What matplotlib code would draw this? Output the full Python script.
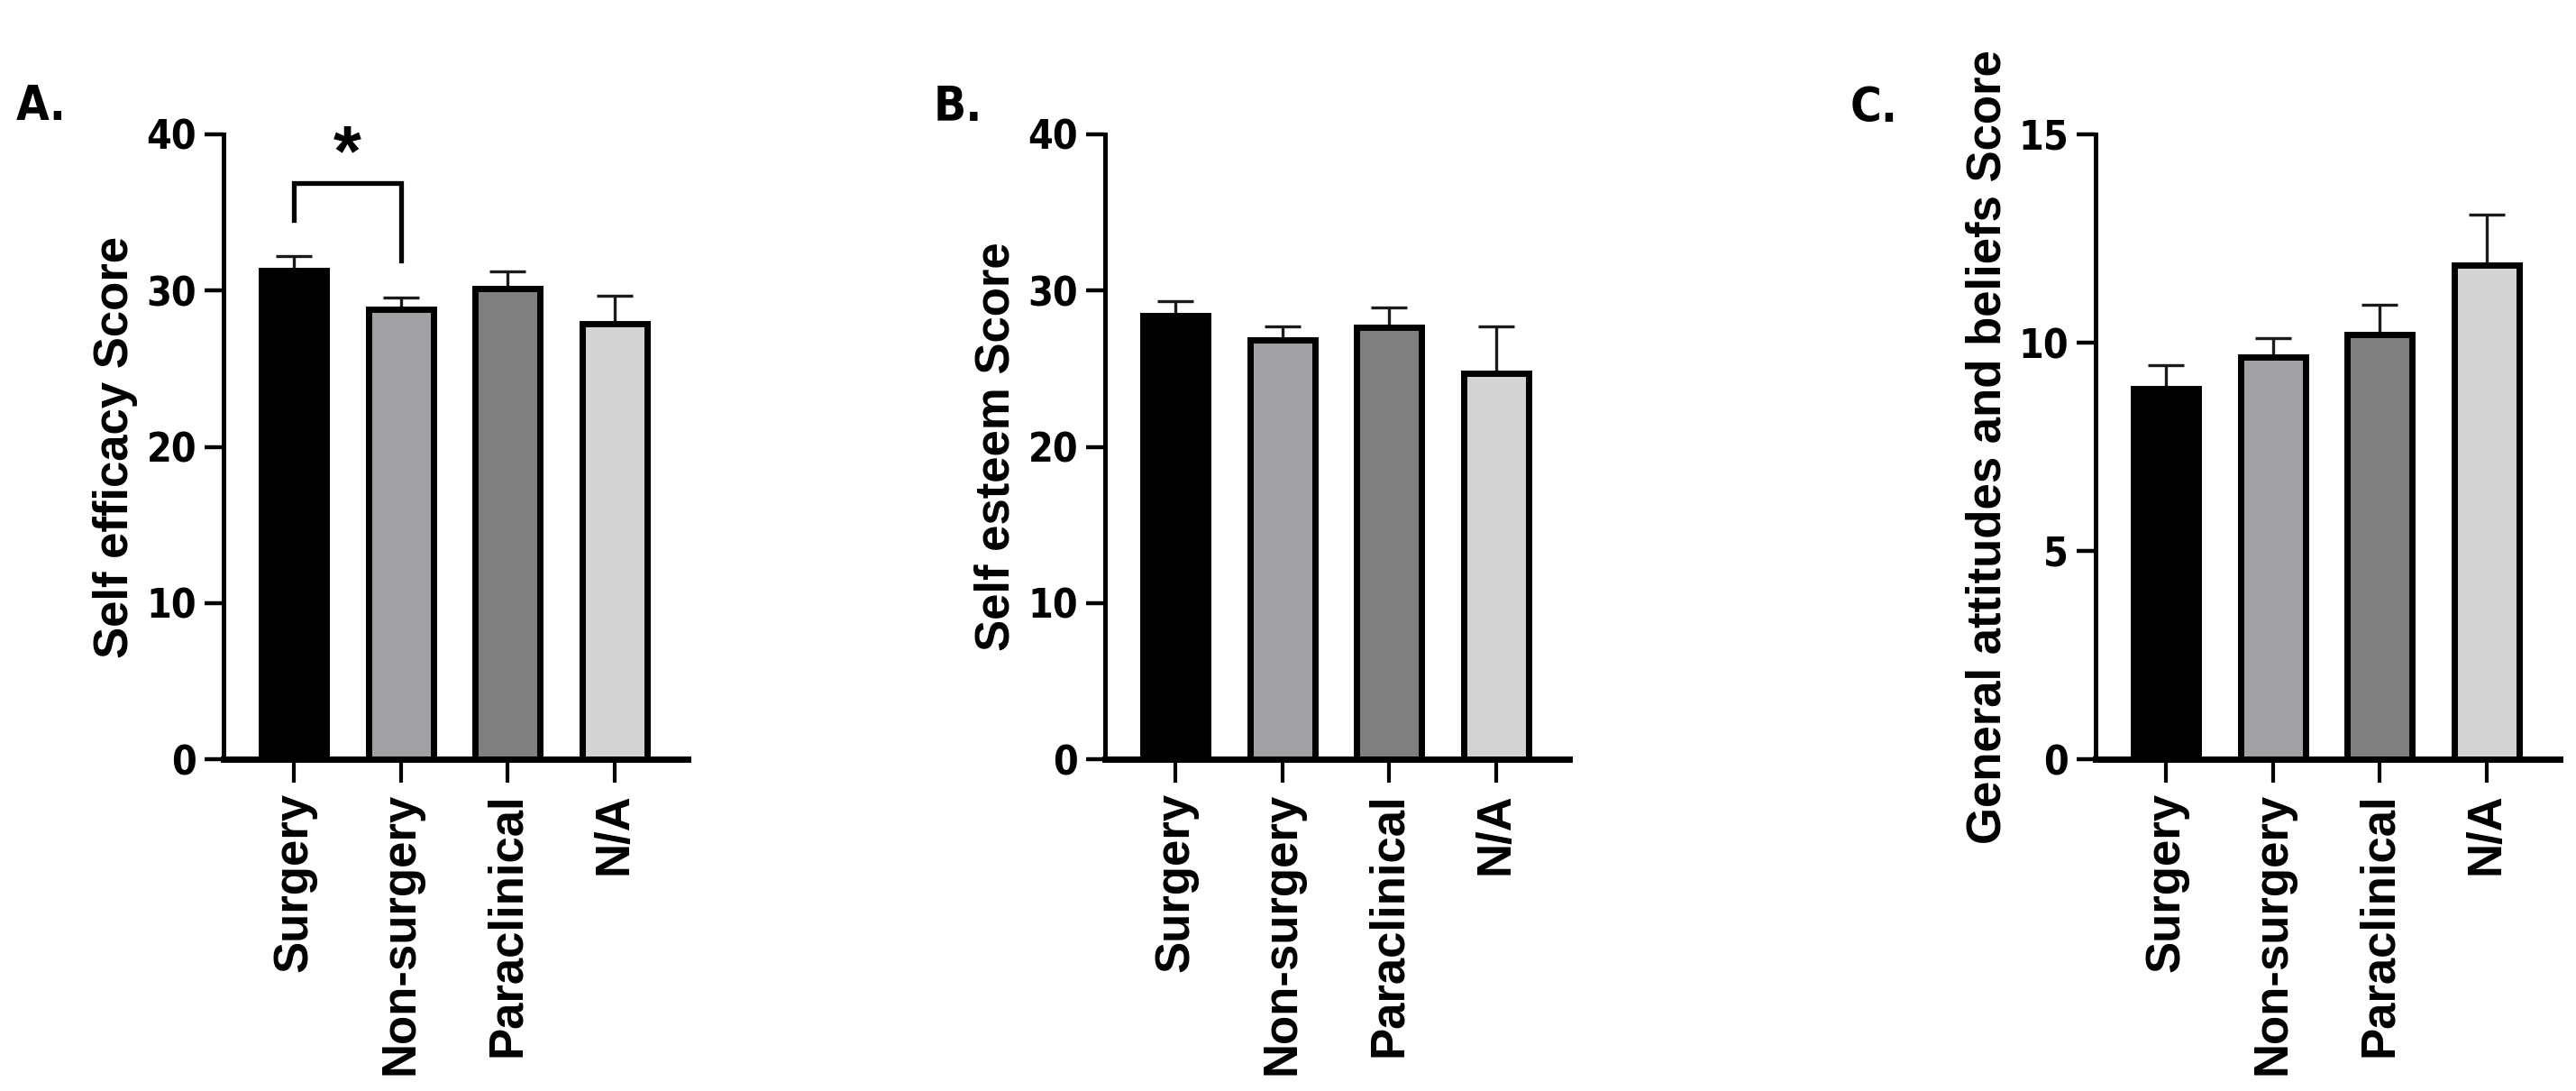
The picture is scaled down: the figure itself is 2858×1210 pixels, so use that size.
import matplotlib
matplotlib.use("Agg")
import matplotlib.pyplot as plt
from matplotlib import font_manager as fm
import numpy as np

# ---------------- data ----------------
groups = ["Surgery", "Non-surgery", "Paraclinical", "N/A"]
bar_colors = ["#000000", "#a0a0a5", "#7f7f7f", "#d3d3d3"]

efficacy_mean = [31.3, 28.8, 30.15, 27.9]
efficacy_err = [0.9, 0.75, 1.05, 1.75]

esteem_mean = [28.4, 26.85, 27.65, 24.7]
esteem_err = [0.95, 0.85, 1.25, 3.0]

attitudes_mean = [8.9, 9.65, 10.2, 11.87]
attitudes_err = [0.55, 0.45, 0.7, 1.2]

panel_letters = ["A.", "B.", "C."]
ylabels = ["Self efficacy Score", "Self esteem Score", "General attitudes and beliefs Score"]
ylims = [40, 40, 15]
yticks = [[0, 10, 20, 30, 40], [0, 10, 20, 30, 40], [0, 5, 10, 15]]

# significance bracket (panel A): between group 0 and 1
sig_pair = (0, 1)
sig_top = 36.87
sig_left_bottom = 34.5
sig_right_bottom = 31.9
sig_star_y = 37.4


def has_font(name):
    try:
        fm.findfont(fm.FontProperties(family=name), fallback_to_default=False)
        return True
    except Exception:
        return False


sans = "Liberation Sans" if has_font("Liberation Sans") else "DejaVu Sans"

# look for a condensed / narrow bold face for the numbers and panel letters
narrow_path = None
for f in fm.fontManager.ttflist:
    nm = (f.name + " " + str(f.fname)).lower()
    st = str(f.stretch).lower()
    if ("narrow" in nm or "condensed" in nm or st in ("condensed", "semi-condensed", "extra-condensed")) \
            and (str(f.weight) in ("bold", "700", "600") or "bold" in nm) and "italic" not in nm:
        narrow_path = f.fname
        break

if narrow_path:
    num_fp = fm.FontProperties(fname=narrow_path, size=32)
    letter_fp = fm.FontProperties(fname=narrow_path, size=38)
else:
    num_fp = fm.FontProperties(family=sans, weight="bold", size=28)
    letter_fp = fm.FontProperties(family=sans, weight="bold", size=34)

W, H = 2858, 1210
fig = plt.figure(figsize=(W / 100, H / 100), dpi=100)

spine_x = [248, 1226, 2325]
ax_top_px = 149
ax_bot_px = 842
ax_w_px = 515
letter_pos = [(18, 133), (1036, 134), (2053, 135)]
ylabel_x = [128, 1106, 2206]

means_all = [efficacy_mean, esteem_mean, attitudes_mean]
errs_all = [efficacy_err, esteem_err, attitudes_err]

x = np.arange(len(groups))
for i in range(3):
    ax = fig.add_axes([spine_x[i] / W, 1 - ax_bot_px / H, ax_w_px / W,
                       (ax_bot_px - ax_top_px) / H])
    ax.set_xlim(-0.66, 3.685)
    ax.set_ylim(0, ylims[i])
    ax.errorbar(x, means_all[i], yerr=[np.zeros(4), errs_all[i]], fmt="none",
                ecolor="#1a1a1a", elinewidth=2.4, capsize=14.6, capthick=2.4,
                zorder=1, clip_on=False)
    ax.bar(x, means_all[i], width=0.61, color=bar_colors, edgecolor="black",
           linewidth=5, zorder=2, clip_on=False)
    for s in ["top", "right"]:
        ax.spines[s].set_visible(False)
    ax.spines["left"].set_linewidth(3.6)
    ax.spines["bottom"].set_linewidth(5)
    ax.spines["left"].set_zorder(3)
    ax.spines["bottom"].set_zorder(3)
    ax.set_yticks(yticks[i])
    ax.set_yticklabels([str(t) for t in yticks[i]])
    for lab in ax.get_yticklabels():
        lab.set_fontproperties(num_fp)
    ax.tick_params(axis="y", length=15, width=3.2, pad=6.5, direction="out")
    ax.set_xticks(x)
    ax.set_xticklabels(groups, rotation=90, fontfamily=sans, fontweight="bold",
                       fontsize=38, va="top", ha="center")
    ax.tick_params(axis="x", length=18.7, width=3.0, pad=8, direction="out")
    fig.text(ylabel_x[i] / W, 1 - ((ax_top_px + ax_bot_px) / 2) / H, ylabels[i],
             rotation=90, ha="center", va="center", fontfamily=sans,
             fontweight="bold", fontsize=38)
    lx, ly = letter_pos[i]
    fig.text(lx / W, 1 - ly / H, panel_letters[i], ha="left", va="baseline",
             fontproperties=letter_fp)
    if i == 0:
        a, b = sig_pair
        ax.plot([a, a, b, b], [sig_left_bottom, sig_top, sig_top, sig_right_bottom],
                color="black", lw=3.8, solid_joinstyle="miter", clip_on=False)
        ax.text((a + b) / 2, sig_star_y, "*", ha="center", va="baseline",
                fontfamily=sans, fontweight="bold", fontsize=57)

fig.savefig("out.png", dpi=100, facecolor="white")
